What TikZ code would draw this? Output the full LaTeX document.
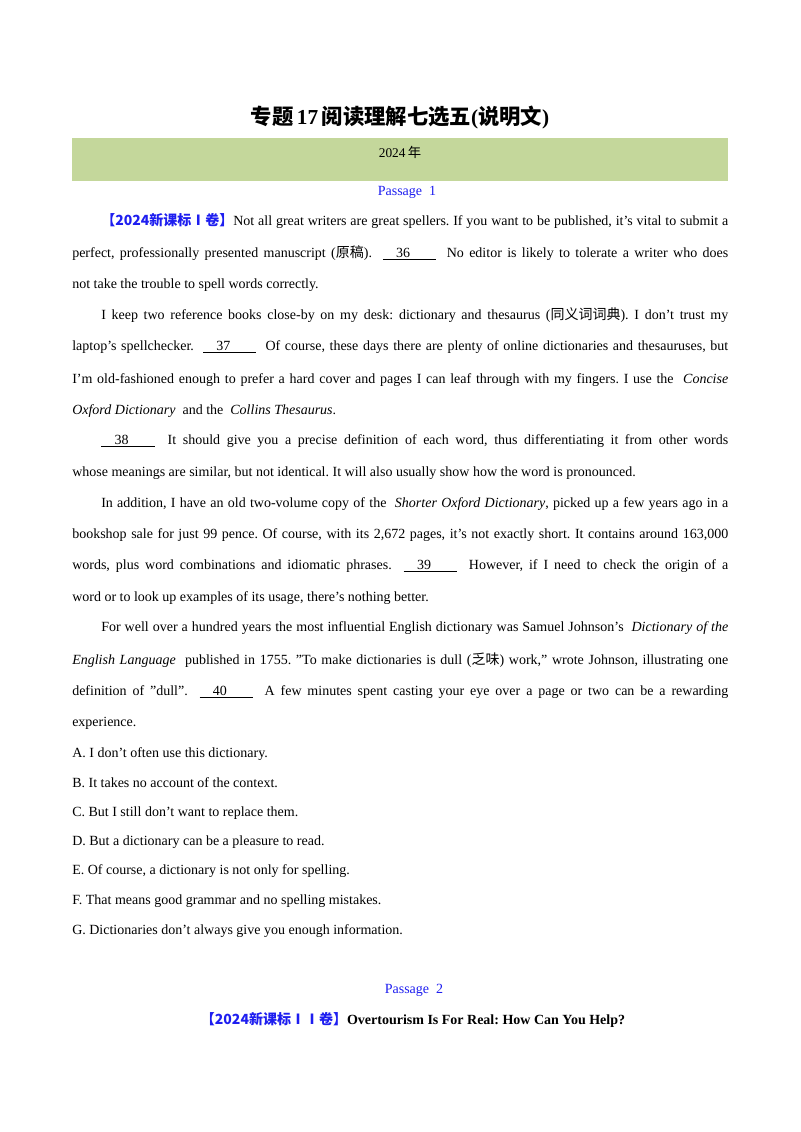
\documentclass[tikz,border=0pt]{standalone}
\usepackage{fontspec}
\setmainfont{Liberation Serif}[RawFeature=-tlig]
\newfontfamily\cj{Noto Sans CJK SC}
\definecolor{band}{RGB}{196,215,155}
\definecolor{pblue}{RGB}{30,30,240}
\frenchspacing
\newcommand{\bl}[1]{\underline{\hbox to 40pt{\hskip 10pt #1\hfil}}}
\newcommand{\mytag}[1]{{\color{pblue}\cj\bfseries #1}}
\newcounter{ln}
\newcommand{\jl}[2]{\stepcounter{ln}\node[txt] (l\theln) at (72,#1) {\makebox[492pt][s]{#2}};}
\newcommand{\ji}[2]{\stepcounter{ln}\node[txt] (l\theln) at (101,#1) {\makebox[470.25pt][s]{#2}};}
\newcommand{\lfl}[2]{\stepcounter{ln}\node[txt] (l\theln) at (72,#1) {#2};}
\newcommand{\lfi}[2]{\stepcounter{ln}\node[txt] (l\theln) at (101,#1) {#2};}
\begin{document}
\begin{tikzpicture}[x=0.75pt,y=-0.75pt,
  txt/.style={anchor=west,inner sep=0pt,font=\fontsize{10.5pt}{12pt}\selectfont\frenchspacing}]
\useasboundingbox (0,0) rectangle (800,1132);
\fill[white] (0,0) rectangle (800,1132);
\node[inner sep=0pt,font=\fontsize{16pt}{19pt}\selectfont\bfseries] (title) at (400,118) {{\cj 专题}\,17\,{\cj 阅读理解七选五}({\cj 说明文})};
\fill[band] (72,138) rectangle (728,181);
\node[inner sep=0pt,font=\fontsize{10pt}{12pt}\selectfont] (year) at (400,152) {2024\,{\cj 年}};
\node[inner sep=0pt,font=\fontsize{10.5pt}{12pt}\selectfont,text=pblue] (p1) at (407,192) {Passage\ \ 1};
\ji{221}{\mytag{【2024新课标Ⅰ卷】}Not all great writers are great spellers. If you want to be published, it's vital to submit a}
\jl{253}{perfect, professionally presented manuscript ({\cj 原稿}). \ \bl{36} \ No editor is likely to tolerate a writer who does}
\lfl{285}{not take the trouble to spell words correctly.}
\ji{315}{I keep two reference books close-by on my desk: dictionary and thesaurus ({\cj 同义词词典}). I don't trust my}
\jl{347}{laptop's spellchecker. \ \bl{37} \ Of course, these days there are plenty of online dictionaries and thesauruses, but}
\jl{380}{I'm old-fashioned enough to prefer a hard cover and pages I can leaf through with my fingers. I use the \ \textit{Concise}}
\lfl{411}{\textit{Oxford Dictionary} \ and the \ \textit{Collins Thesaurus}.}
\ji{441}{\bl{38} \ It should give you a precise definition of each word, thus differentiating it from other words}
\lfl{473}{whose meanings are similar, but not identical. It will also usually show how the word is pronounced.}
\ji{504}{In addition, I have an old two-volume copy of the \ \textit{Shorter Oxford Dictionary}, picked up a few years ago in a}
\jl{535}{bookshop sale for just 99 pence. Of course, with its 2,672 pages, it's not exactly short. It contains around 163,000}
\jl{566}{words, plus word combinations and idiomatic phrases. \ \bl{39} \ However, if I need to check the origin of a}
\lfl{598}{word or to look up examples of its usage, there's nothing better.}
\ji{628}{For well over a hundred years the most influential English dictionary was Samuel Johnson's \ \textit{Dictionary of the}}
\jl{660}{\textit{English Language} \ published in 1755. "To make dictionaries is dull ({\cj 乏味}) work," wrote Johnson, illustrating one}
\jl{692}{definition of "dull". \ \bl{40} \ A few minutes spent casting your eye over a page or two can be a rewarding}
\lfl{723}{experience.}
\lfl{754}{A. I don't often use this dictionary.}
\lfl{783}{B. It takes no account of the context.}
\lfl{813}{C. But I still don't want to replace them.}
\lfl{842}{D. But a dictionary can be a pleasure to read.}
\lfl{871}{E. Of course, a dictionary is not only for spelling.}
\lfl{901}{F. That means good grammar and no spelling mistakes.}
\lfl{931}{G. Dictionaries don't always give you enough information.}
\node[inner sep=0pt,font=\fontsize{10.5pt}{12pt}\selectfont,text=pblue] (p2) at (414,990) {Passage\ \ 2};
\node[inner sep=0pt,font=\fontsize{10.5pt}{12pt}\selectfont\bfseries] (h2) at (413,1020) {\mytag{【2024新课标ⅠⅠ卷】}Overtourism Is For Real: How Can You Help?};
\end{tikzpicture}
\end{document}
